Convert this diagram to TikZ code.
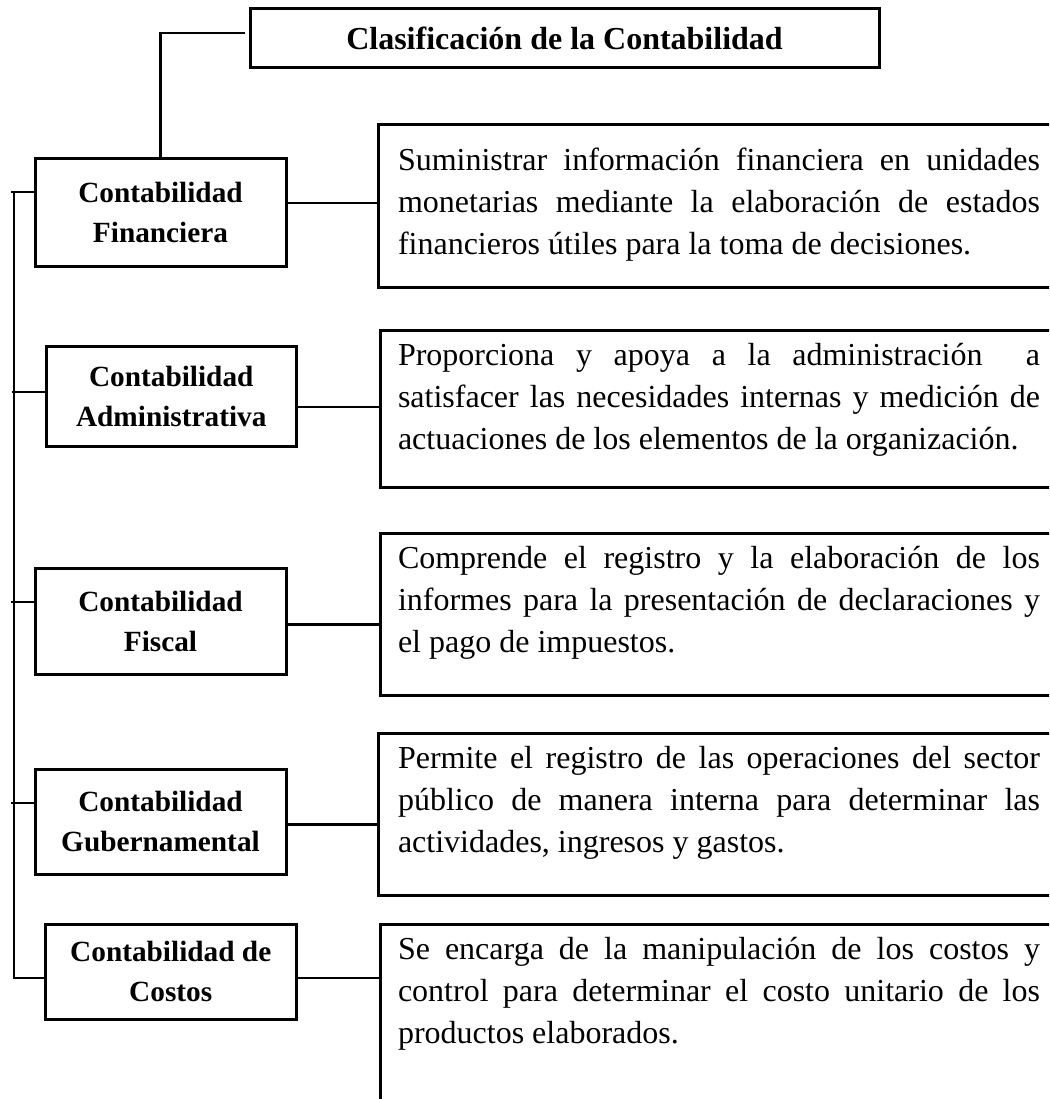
\documentclass[tikz,border=0pt]{standalone}
\usepackage{fontspec}
\setmainfont{Liberation Serif}
\begin{document}
\begin{tikzpicture}[x=1pt,y=-1pt,
  box/.style={draw, line width=3pt, inner sep=0pt, outer sep=0pt},
  lab/.style={box, align=center, font=\bfseries\fontsize{29.3}{40}\selectfont},
  ttl/.style={box, font=\bfseries\fontsize{32}{38}\selectfont},
  descbox/.style={box, anchor=north west, minimum width=700pt},
  txt/.style={anchor=north west, inner sep=0pt, outer sep=0pt, text width=642pt, align=justify, font=\fontsize{32}{42}\selectfont},
  conn/.style={line width=2.4pt}]
\useasboundingbox (0,0) rectangle (1049,1099);
\clip (0,0) rectangle (1049,1099);

% title
\node[ttl, minimum width=629pt, minimum height=59pt] (title) at (564.5,38.5) {Clasificación de la Contabilidad};

% left labels
\node[lab, minimum width=251pt, minimum height=107pt] (fin) at (160.5,212.5) {Contabilidad\\Financiera};
\node[lab, minimum width=250.5pt, minimum height=100pt] (adm) at (171.25,396) {Contabilidad\\Administrativa};
\node[lab, minimum width=251pt, minimum height=106pt] (fis) at (160.5,621) {Contabilidad\\Fiscal};
\node[lab, minimum width=251pt, minimum height=105pt] (gub) at (160.5,821.5) {Contabilidad\\Gubernamental};
\node[lab, minimum width=251.5pt, minimum height=95pt] (cos) at (170.75,971.5) {Contabilidad de\\Costos};

% description boxes
\node[descbox, minimum height=162pt] (d1) at (378,125) {};
\node[descbox, minimum height=157pt] (d2) at (380,330) {};
\node[descbox, minimum height=162pt] (d3) at (380,533) {};
\node[descbox, minimum height=162pt] (d4) at (378,733) {};
\node[descbox, minimum height=200pt] (d5) at (380,924) {};

% description texts
\node[txt] (t1) at ([xshift=20pt,yshift=-18pt]d1.north west) {\rule{0pt}{28pt}Suministrar información financiera en unidades\linebreak monetarias mediante la elaboración de estados\linebreak financieros útiles para la toma de decisiones.};
\node[txt] (t2) at ([xshift=18pt,yshift=-7pt]d2.north west) {\rule{0pt}{28pt}Proporciona y apoya a la administración~~a\linebreak satisfacer las necesidades internas y medición de\linebreak actuaciones de los elementos de la organización.};
\node[txt] (t3) at ([xshift=18pt,yshift=-7pt]d3.north west) {\rule{0pt}{28pt}Comprende el registro y la elaboración de los\linebreak informes para la presentación de declaraciones y\linebreak el pago de impuestos.};
\node[txt] (t4) at ([xshift=20pt,yshift=-7pt]d4.north west) {\rule{0pt}{28pt}Permite el registro de las operaciones del sector\linebreak público de manera interna para determinar las\linebreak actividades, ingresos y gastos.};
\node[txt] (t5) at ([xshift=18pt,yshift=-7pt]d5.north west) {\rule{0pt}{28pt}Se encarga de la manipulación de los costos y\linebreak control para determinar el costo unitario de los\linebreak productos elaborados.};

% title connector
\coordinate (tl) at (245,33);
\draw[conn] (tl) -| (fin.north);

% left bus
\coordinate (bustop) at (11,192);
\coordinate (buscorner) at (14,977.7);
\draw[conn] (bustop) -- (fin.west |- bustop);
\draw[conn] (14,192) -- (buscorner) -- (cos.west |- buscorner);
\coordinate (b2) at (12,391.7);
\coordinate (b3) at (11,601.7);
\coordinate (b4) at (11,802.7);
\draw[conn] (b2) -- (adm.west |- b2);
\draw[conn] (b3) -- (fis.west |- b3);
\draw[conn] (b4) -- (gub.west |- b4);

% label to description connectors
\coordinate (c1) at (0,203.3);
\coordinate (c2) at (0,406.7);
\coordinate (c3) at (0,624.3);
\coordinate (c4) at (0,824.3);
\coordinate (c5) at (0,977.7);
\draw[conn] (fin.east |- c1) -- (d1.west |- c1);
\draw[conn] (adm.east |- c2) -- (d2.west |- c2);
\draw[conn] (fis.east |- c3) -- (d3.west |- c3);
\draw[conn] (gub.east |- c4) -- (d4.west |- c4);
\draw[conn] (cos.east |- c5) -- (d5.west |- c5);
\end{tikzpicture}
\end{document}
